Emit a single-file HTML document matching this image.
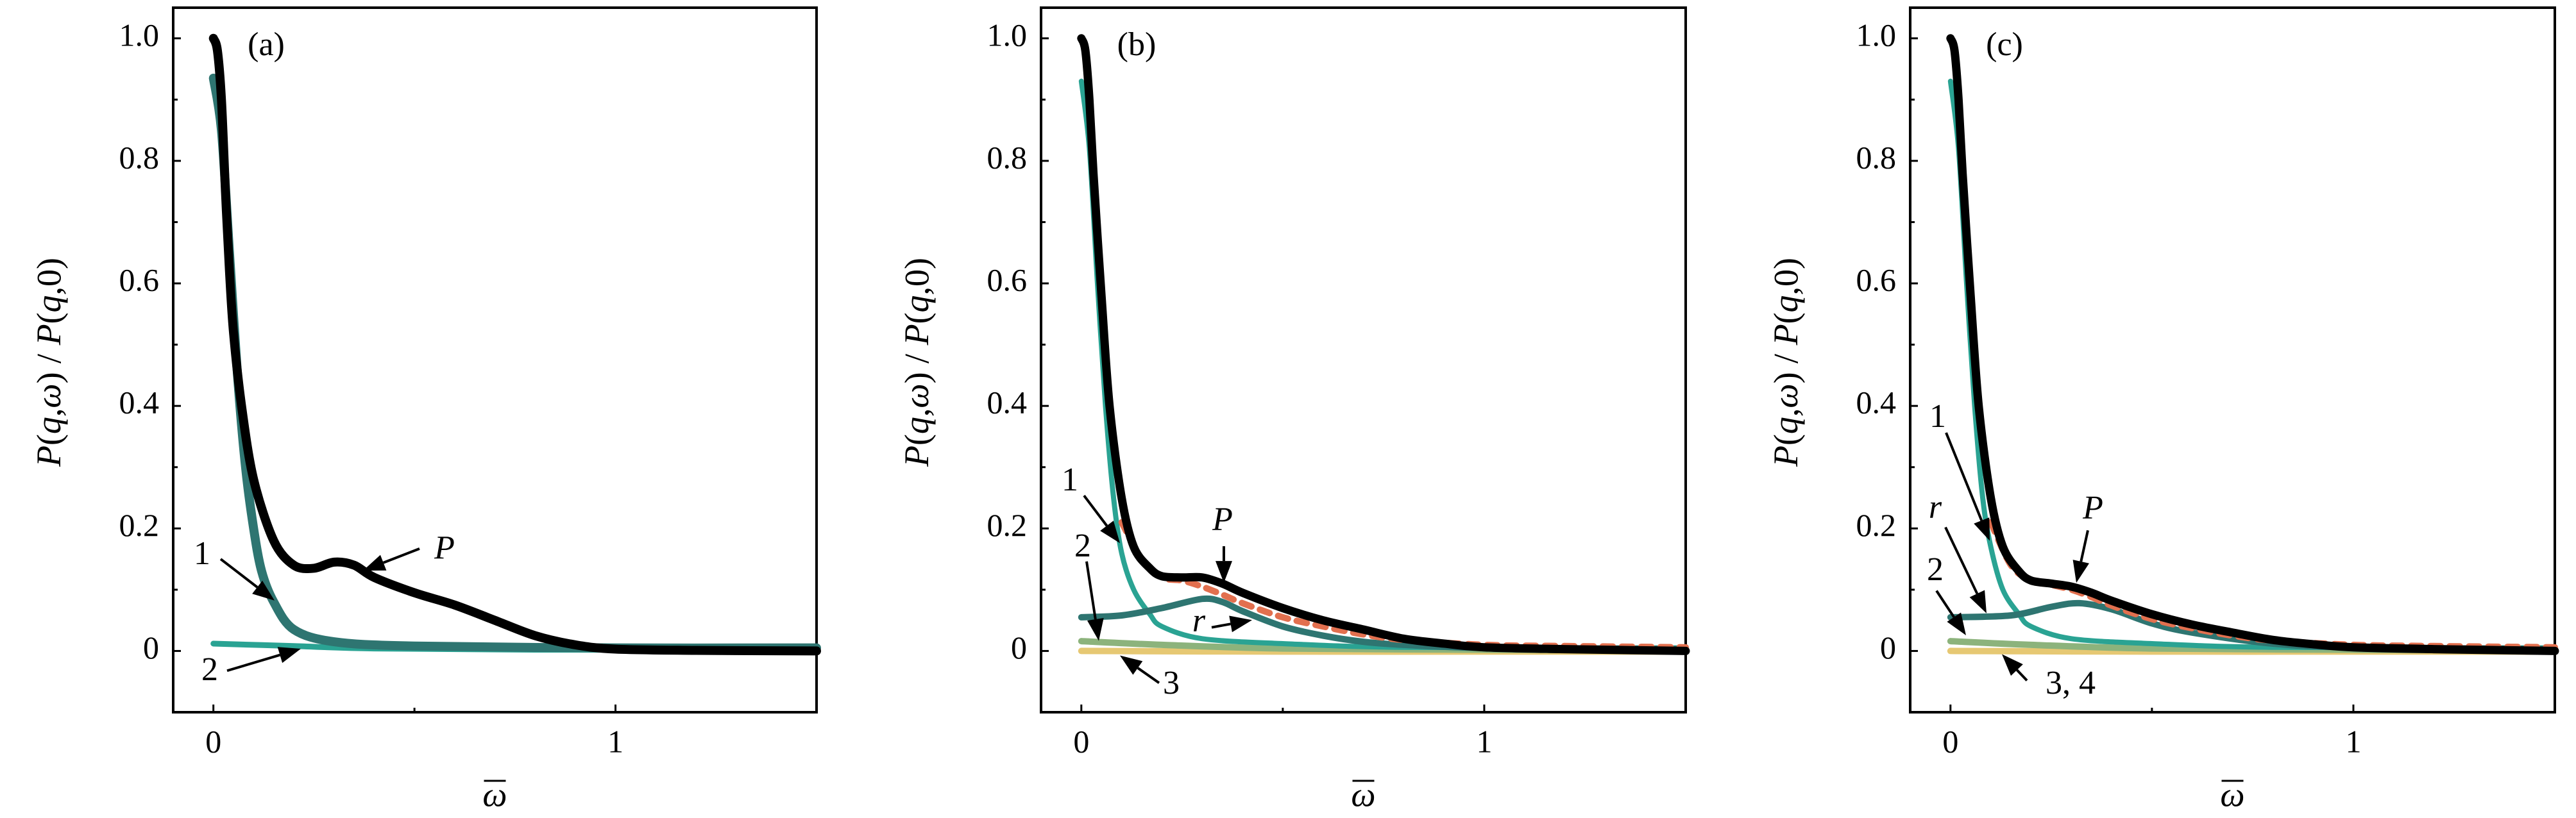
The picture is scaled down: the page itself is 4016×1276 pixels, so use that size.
<!DOCTYPE html>
<html><head><meta charset="utf-8"><style>
html,body{margin:0;padding:0;background:#fff;}
svg{display:block;}
text{font-family:"Liberation Serif",serif;fill:#000;}
</style></head><body>
<svg id="chart" width="4016" height="1276" viewBox="0 0 4016 1276" xmlns="http://www.w3.org/2000/svg"></svg>
<script>
// ---- data (x = omega-bar, y = P/P0) ----
const aX_P = [0,0.01,0.02,0.03,0.04,0.05,0.07,0.1,0.15,0.2,0.25,0.3,0.35,0.4,0.5,0.6,0.7,0.8,0.9,1.0,1.2,1.5];
const aY_P = [1.0,0.98,0.9,0.75,0.62,0.52,0.4,0.28,0.18,0.14,0.135,0.145,0.14,0.12,0.095,0.075,0.05,0.025,0.01,0.003,0.001,0];
const aX_1 = [0,0.02,0.04,0.06,0.08,0.1,0.12,0.15,0.2,0.3,0.5,1.0,1.5];
const aY_1 = [0.935,0.85,0.65,0.45,0.3,0.2,0.13,0.08,0.035,0.015,0.008,0.005,0.005];
const aX_2 = [0,0.2,0.4,0.8,1.5];
const aY_2 = [0.012,0.008,0.004,0.002,0.002];

const bX_P = [0,0.01,0.02,0.03,0.05,0.07,0.1,0.13,0.17,0.2,0.25,0.3,0.35,0.4,0.5,0.6,0.7,0.8,0.9,1.0,1.2,1.5];
const bY_P = [1.0,0.98,0.9,0.78,0.58,0.4,0.25,0.17,0.135,0.122,0.12,0.12,0.11,0.095,0.07,0.05,0.035,0.02,0.012,0.006,0.003,0];
const bX_fit = [0.1,0.15,0.2,0.25,0.3,0.35,0.4,0.5,0.6,0.7,0.8,1.0,1.2,1.5];
const bY_fit = [0.21,0.15,0.12,0.115,0.105,0.092,0.078,0.055,0.04,0.027,0.018,0.01,0.008,0.006];
const bX_1 = [0,0.02,0.04,0.06,0.08,0.1,0.13,0.17,0.2,0.3,0.5,0.8,1.5];
const bY_1 = [0.93,0.82,0.6,0.4,0.25,0.16,0.1,0.06,0.04,0.02,0.012,0.006,0.005];
const bX_r = [0,0.1,0.2,0.3,0.35,0.4,0.5,0.6,0.7,0.8,1.0,1.5];
const bY_r = [0.055,0.058,0.07,0.085,0.08,0.065,0.04,0.025,0.015,0.01,0.005,0.003];
const bX_2 = [0,0.2,0.5,1.0,1.5];
const bY_2 = [0.016,0.01,0.004,0.002,0.001];
const bX_3 = [0,0.5,1.0,1.5];
const bY_3 = [0,-0.001,-0.001,-0.001];

const cX_P = [0,0.01,0.02,0.03,0.05,0.07,0.1,0.13,0.17,0.2,0.25,0.3,0.35,0.4,0.5,0.6,0.7,0.8,0.9,1.0,1.2,1.5];
const cY_P = [1.0,0.98,0.9,0.78,0.58,0.4,0.25,0.17,0.13,0.115,0.11,0.105,0.095,0.082,0.06,0.043,0.03,0.018,0.011,0.006,0.003,0];
const cX_fit = [0.1,0.15,0.2,0.25,0.3,0.35,0.4,0.5,0.6,0.7,0.8,1.0,1.2,1.5];
const cY_fit = [0.21,0.14,0.115,0.108,0.1,0.088,0.074,0.052,0.037,0.025,0.017,0.01,0.008,0.006];
const cX_1 = [0,0.02,0.04,0.06,0.08,0.1,0.13,0.17,0.2,0.3,0.5,0.8,1.5];
const cY_1 = [0.93,0.82,0.6,0.4,0.25,0.17,0.1,0.06,0.04,0.02,0.012,0.006,0.005];
const cX_r = [0,0.15,0.25,0.32,0.4,0.5,0.6,0.8,1.0,1.5];
const cY_r = [0.055,0.058,0.072,0.078,0.068,0.045,0.03,0.012,0.006,0.003];
const cX_2 = [0,0.2,0.5,1.0,1.5];
const cY_2 = [0.016,0.01,0.004,0.002,0.001];
const cX_3 = [0,0.5,1.0,1.5];
const cY_3 = [0,-0.001,-0.001,-0.001];

const yTicks = [0,0.2,0.4,0.6,0.8,1.0];
const yTickLabels = ["0","0.2","0.4","0.6","0.8","1.0"];
const xTicks = [0,1];
const xTickLabels = ["0","1"];

// ---- drawing ----
const NS = "http://www.w3.org/2000/svg";
const svg = document.getElementById('chart');
function mk(tag, attrs, parent){const e=document.createElementNS(NS,tag);for(const k in attrs)e.setAttribute(k,attrs[k]);(parent||svg).appendChild(e);return e;}

const TOP=12, BOT=1111, XMIN=-0.1, XMAX=1.5, YMIN=-0.1, YMAX=1.05;
const VS = 0.952; // vertical correction for annotation positions
function makeScales(L,R){
  return {
    sx: v => L + (v-XMIN)/(XMAX-XMIN)*(R-L),
    sy: v => BOT - (v-YMIN)/(YMAX-YMIN)*(BOT-TOP)
  };
}
function smoothPath(xs,ys,sx,sy){
  const p = xs.map((x,i)=>[sx(x),sy(ys[i])]);
  let d = `M${p[0][0]},${p[0][1]}`;
  for(let i=0;i<p.length-1;i++){
    const p0=p[Math.max(0,i-1)], p1=p[i], p2=p[i+1], p3=p[Math.min(p.length-1,i+2)];
    const t=0.16;
    let c1=[p1[0]+(p2[0]-p0[0])*t, p1[1]+(p2[1]-p0[1])*t];
    let c2=[p2[0]-(p3[0]-p1[0])*t, p2[1]-(p3[1]-p1[1])*t];
    d += ` C${c1[0]},${c1[1]} ${c2[0]},${c2[1]} ${p2[0]},${p2[1]}`;
  }
  return d;
}
function series(g,name,xs,ys,sc,color,w,dash){
  const el = mk('path',{d:smoothPath(xs,ys,sc.sx,sc.sy),fill:'none',stroke:color,'stroke-width':w,'stroke-linecap':'round','stroke-linejoin':'round'},g);
  if(dash) el.setAttribute('stroke-dasharray',dash);
  
  
}
function arrow(g,name,x1,y1,x2,y2){
  y1*=VS; y2*=VS;
  const ang=Math.atan2(y2-y1,x2-x1), L=34, W=13;
  const bx=x2-L*Math.cos(ang), by=y2-L*Math.sin(ang);
  const gg = mk('g',{},g);
  
  
  mk('line',{x1:x1,y1:y1,x2:bx,y2:by,stroke:'#000','stroke-width':4},gg);
  mk('polygon',{points:`${x2},${y2} ${bx-W*Math.sin(ang)},${by+W*Math.cos(ang)} ${bx+W*Math.sin(ang)},${by-W*Math.cos(ang)}`,fill:'#000'},gg);
}
function label(g,name,txt,x,y,italic,size){
  y*=VS;
  const t = mk('text',{x:x,y:y,'font-size':size||52,'text-anchor':'middle','dominant-baseline':'middle'},g);
  if(italic) t.setAttribute('font-style','italic');
  t.textContent = txt;
  
  
}

function axes(g,L,R,sc,tag){
  const fr = mk('rect',{x:L,y:TOP,width:R-L,height:BOT-TOP,fill:'none',stroke:'#000','stroke-width':4},g);
  
  
  for(let v=-0.1; v<=1.0001; v+=0.1){
    const major = Math.abs(Math.round(v*10)%2)===0;
    mk('line',{x1:L,x2:L+(major?12:7),y1:sc.sy(v),y2:sc.sy(v),stroke:'#000','stroke-width':3},g);
  }
  yTicks.forEach((v,i)=>{
    const t = mk('text',{x:L-22,y:sc.sy(v),'font-size':50,'text-anchor':'end','dominant-baseline':'middle'},g);
    t.textContent = yTickLabels[i];
    
    
  });
  [0,0.5,1].forEach(v=>{
    mk('line',{x1:sc.sx(v),x2:sc.sx(v),y1:BOT,y2:BOT-(v===0.5?7:12),stroke:'#000','stroke-width':3},g);
  });
  xTicks.forEach((v,i)=>{
    const t = mk('text',{x:sc.sx(v),y:1162,'font-size':50,'text-anchor':'middle','dominant-baseline':'middle'},g);
    t.textContent = xTickLabels[i];
    
    
  });
  const xt = mk('text',{x:sc.sx(0.7),y:1245,'font-size':54,'font-style':'italic','text-anchor':'middle','dominant-baseline':'middle'},g);
  xt.textContent='ω';
  
  
  mk('line',{x1:sc.sx(0.7)-17,x2:sc.sx(0.7)+17,y1:1218,y2:1218,stroke:'#000','stroke-width':3},g);
  const yt = mk('text',{x:0,y:0,'font-size':54,'text-anchor':'middle','dominant-baseline':'middle',transform:`translate(${L-188},565) rotate(-90)`},g);
  yt.innerHTML = '<tspan font-style="italic">P</tspan>(<tspan font-style="italic">q</tspan>,<tspan font-style="italic">ω</tspan>) / <tspan font-style="italic">P</tspan>(<tspan font-style="italic">q</tspan>,0)';
  
  
}

const TEAL='#2aa393', DTEAL='#2e7571', GREEN='#8cb37c', YEL='#e6c873', RED='#e2704f';

// Panel a
(function(){
  const L=270,R=1273, sc=makeScales(L,R);
  const g=mk('g',{});  
  axes(g,L,R,sc,'a');
  series(g,'curve-2',aX_2,aY_2,sc,TEAL,9);
  series(g,'curve-1',aX_1,aY_1,sc,DTEAL,14);
  series(g,'curve-P',aX_P,aY_P,sc,'#000',14);
  label(g,'panel-label-a','(a)',415,78,false);
  label(g,'label-P','P',693,903,true);
  arrow(g,'arrow-P',654,899,566,935);
  label(g,'label-1','1',315,912,false);
  arrow(g,'arrow-1',344,916,428,984);
  label(g,'label-2','2',327,1102,false);
  arrow(g,'arrow-2',354,1099,469,1063);
})();
// Panel b
(function(){
  const L=1623,R=2628, sc=makeScales(L,R);
  const g=mk('g',{});  
  axes(g,L,R,sc,'b');
  series(g,'curve-3',bX_3,bY_3,sc,YEL,10);
  series(g,'curve-2',bX_2,bY_2,sc,GREEN,10);
  series(g,'curve-1',bX_1,bY_1,sc,TEAL,8);
  series(g,'curve-r',bX_r,bY_r,sc,DTEAL,10);
  series(g,'fit-dashed',bX_fit,bY_fit,sc,RED,10,'16 14');
  series(g,'curve-P',bX_P,bY_P,sc,'#000',13);
  label(g,'panel-label-b','(b)',1772,78,false);
  label(g,'label-P','P',1906,856,true);
  arrow(g,'arrow-P',1908,895,1908,955);
  label(g,'label-1','1',1668,791,false);
  arrow(g,'arrow-1',1690,812,1746,890);
  label(g,'label-2','2',1688,899,false);
  arrow(g,'arrow-2',1694,920,1713,1050);
  label(g,'label-r','r',1869,1022,true);
  arrow(g,'arrow-r',1889,1028,1952,1016);
  label(g,'label-3','3',1826,1124,false);
  arrow(g,'arrow-3',1807,1119,1746,1074);
})();
// Panel c
(function(){
  const L=2978,R=3983, sc=makeScales(L,R);
  const g=mk('g',{});  
  axes(g,L,R,sc,'c');
  series(g,'curve-3-4',cX_3,cY_3,sc,YEL,10);
  series(g,'curve-2',cX_2,cY_2,sc,GREEN,10);
  series(g,'curve-1',cX_1,cY_1,sc,TEAL,8);
  series(g,'curve-r',cX_r,cY_r,sc,DTEAL,10);
  series(g,'fit-dashed',cX_fit,cY_fit,sc,RED,10,'16 14');
  series(g,'curve-P',cX_P,cY_P,sc,'#000',13);
  label(g,'panel-label-c','(c)',3125,78,false);
  label(g,'label-P','P',3263,837,true);
  arrow(g,'arrow-P',3255,869,3237,955);
  label(g,'label-1','1',3021,687,false);
  arrow(g,'arrow-1',3034,709,3102,886);
  label(g,'label-r','r',3017,836,true);
  arrow(g,'arrow-r',3033,864,3097,1005);
  label(g,'label-2','2',3017,938,false);
  arrow(g,'arrow-2',3019,968,3065,1041);
  label(g,'label-3-4','3, 4',3228,1124,false);
  arrow(g,'arrow-3-4',3160,1115,3121,1072);
})();
</script>
</body></html>
